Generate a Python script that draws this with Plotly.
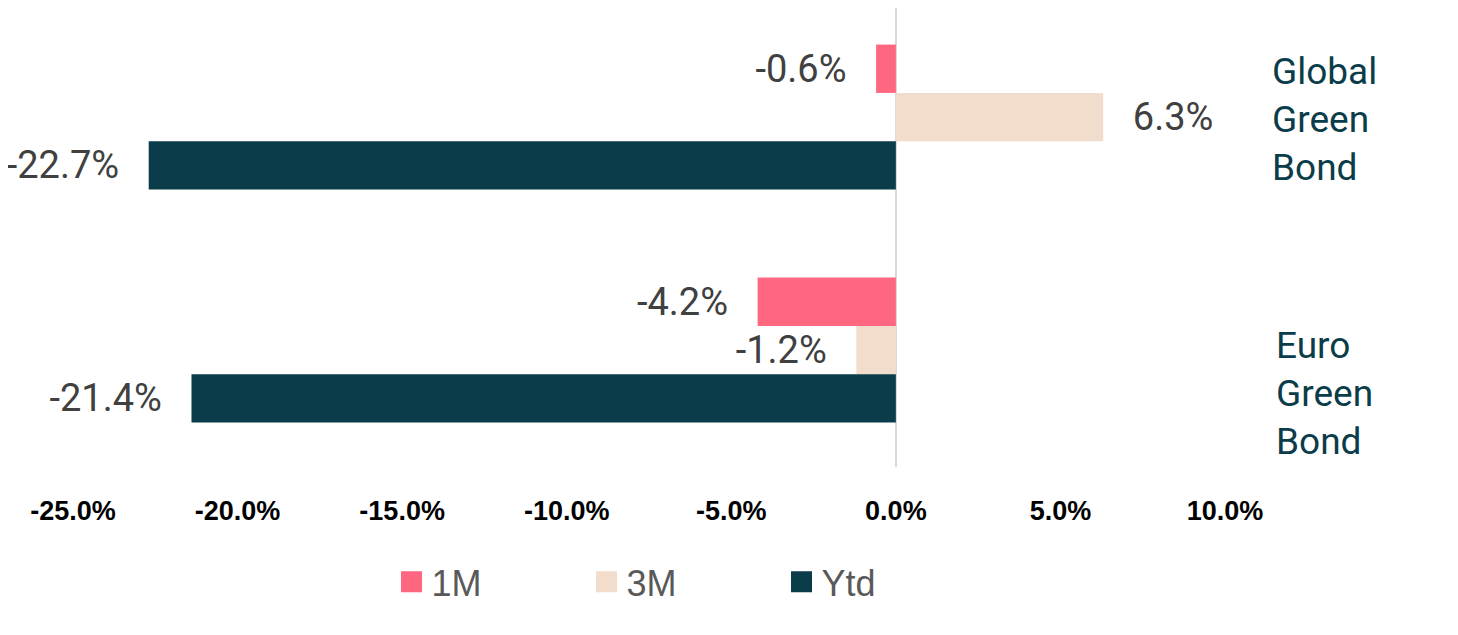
import plotly.graph_objects as go

categories = ["Global Green Bond", "Euro Green Bond"]
category_labels = ["Global<br>Green<br>Bond", "Euro<br>Green<br>Bond"]
series_names = ["1M", "3M", "Ytd"]
values_1m = [-0.6, -4.2]
values_3m = [6.3, -1.2]
values_ytd = [-22.7, -21.4]
x_ticks = [-25, -20, -15, -10, -5, 0, 5, 10]
x_tick_text = [f"{v:.1f}%" for v in x_ticks]

colors = ["#FF6680", "#F2DCCB", "#0B3C49"]
PAD = "\u00a0\u00a0\u2009"


def labels(vals):
    out = []
    for v in vals:
        s = f"{v:.1f}%"
        out.append(s + PAD if v < 0 else PAD + s)
    return out


fig = go.Figure()
for name, vals, col in zip(series_names, [values_1m, values_3m, values_ytd], colors):
    fig.add_trace(go.Bar(
        y=categories, x=vals, name=name, orientation="h",
        marker=dict(color=col, line=dict(width=0)),
        text=labels(vals), textposition="outside", cliponaxis=False,
        constraintext="none",
        textfont=dict(family="Roboto", size=38, color="#404040"),
        showlegend=False, hoverinfo="skip",
    ))
    # legend swatch
    fig.add_trace(go.Scatter(
        x=[None], y=[None], mode="markers", name=name,
        marker=dict(symbol="square", size=16, color=col, line=dict(color=col, width=5)),
        showlegend=True,
    ))

for i, (cat, lab) in enumerate(zip(categories, category_labels)):
    fig.add_annotation(
        x=1.039 if i == 0 else 1.0425, xref="paper", xanchor="left",
        y=cat, yref="y", yanchor="middle", yshift=-2 if i == 0 else -43,
        text=lab, align="left", showarrow=False,
        font=dict(family="Roboto", size=37, color="#0B3C49"),
    )

fig.update_layout(
    width=1458, height=635,
    margin=dict(l=65, r=241, t=0, b=176, autoexpand=False),
    plot_bgcolor="white", paper_bgcolor="white",
    barmode="group", bargap=0.378, bargroupgap=0,
    xaxis=dict(
        range=[-25, 10], tickvals=x_ticks, ticktext=x_tick_text,
        showgrid=False, zeroline=True, zerolinecolor="#D9D9D9", zerolinewidth=2,
        showline=False, ticks="", ticklabelstandoff=25,
        tickfont=dict(family="Liberation Sans", size=27, color="#000000", weight="bold"),
    ),
    yaxis=dict(
        categoryorder="array", categoryarray=categories, range=[1.502, -0.468],
        showticklabels=False, showgrid=False, zeroline=False, showline=False,
    ),
    legend=dict(
        orientation="h", x=0.2765, xanchor="left", y=-0.25, yanchor="middle",
        font=dict(family="Liberation Sans", size=36, color="#595959"),
        entrywidth=150, entrywidthmode="pixels", bgcolor="rgba(0,0,0,0)",
    ),
    showlegend=True,
)

fig.write_html("out.html")
